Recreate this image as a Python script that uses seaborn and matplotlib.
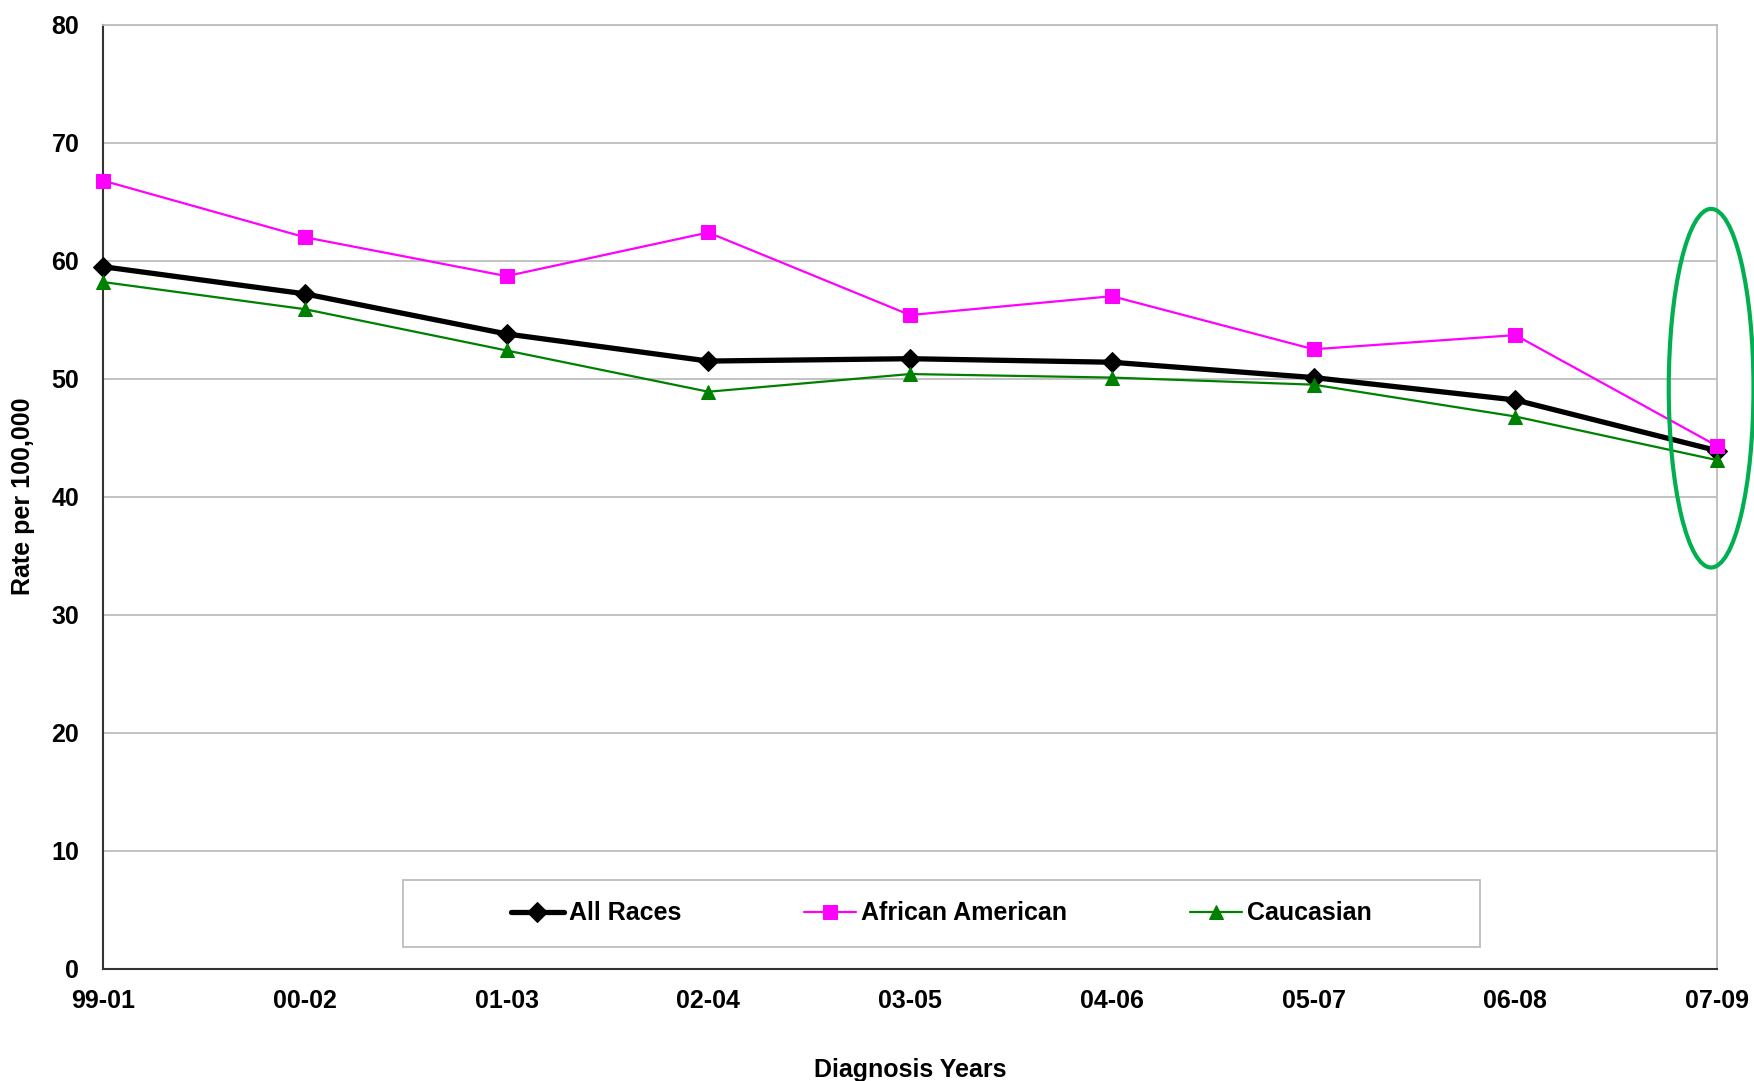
import matplotlib
matplotlib.use("Agg")
import matplotlib.pyplot as plt
from matplotlib.patches import Ellipse, Rectangle
import seaborn as sns
import pandas as pd

periods = ["99-01", "00-02", "01-03", "02-04", "03-05", "04-06", "05-07", "06-08", "07-09"]
all_races = [59.5, 57.2, 53.8, 51.5, 51.7, 51.4, 50.1, 48.2, 43.9]
african_american = [66.8, 62.0, 58.7, 62.4, 55.4, 57.0, 52.5, 53.7, 44.3]
caucasian = [58.2, 55.9, 52.4, 48.9, 50.4, 50.1, 49.5, 46.8, 43.1]
y_ticks = [0, 10, 20, 30, 40, 50, 60, 70, 80]

sns.set_theme(style="white")
plt.rcParams["font.family"] = ["Liberation Sans", "DejaVu Sans"]
plt.rcParams["text.color"] = "black"
plt.rcParams["axes.labelcolor"] = "black"
plt.rcParams["xtick.color"] = "black"
plt.rcParams["ytick.color"] = "black"

FS = 18

df = pd.DataFrame({
    "period": periods * 3,
    "rate": all_races + african_american + caucasian,
    "group": ["All Races"] * 9 + ["African American"] * 9 + ["Caucasian"] * 9,
})

fig = plt.figure(figsize=(17.54, 10.81), dpi=100)
ax = fig.add_axes([0.0587, 0.104, 0.9203, 0.873])

styles = {
    "All Races": dict(color="black", marker="D", markersize=10, linewidth=3.8),
    "African American": dict(color="#FF00FF", marker="s", markersize=9.5, linewidth=1.6),
    "Caucasian": dict(color="#008000", marker="^", markersize=9.5, linewidth=1.6),
}
for name, st in styles.items():
    sub = df[df["group"] == name]
    sns.lineplot(data=sub, x="period", y="rate", ax=ax, sort=False,
                 label=name, markeredgecolor=st["color"], zorder=3,
                 clip_on=False, **st)

ax.set_xlim(0, len(periods) - 1)
ax.set_ylim(0, 80)
ax.set_yticks(y_ticks)
ax.yaxis.grid(True, color="#BDBDBD", linewidth=1.3)
ax.xaxis.grid(False)

for side in ("top", "right"):
    ax.spines[side].set_color("#BDBDBD")
    ax.spines[side].set_linewidth(1.3)
for side in ("left", "bottom"):
    ax.spines[side].set_color("#333333")
    ax.spines[side].set_linewidth(1.5)

ax.tick_params(axis="both", which="major", direction="out", length=5, width=1.2,
               color="#333333", labelsize=FS, labelcolor="black")
ax.tick_params(axis="y", pad=12)
ax.tick_params(axis="x", pad=10)
for lbl in ax.get_xticklabels() + ax.get_yticklabels():
    lbl.set_fontweight("bold")

ax.set_xlabel("Diagnosis Years", fontsize=FS, fontweight="bold", labelpad=32)
ax.set_ylabel("Rate per 100,000", fontsize=FS, fontweight="bold", labelpad=12)

# legend box
box = Rectangle((0.186, 0.023), 0.667, 0.071, transform=ax.transAxes,
                facecolor="white", edgecolor="#BDBDBD", linewidth=1.3, zorder=4)
ax.add_patch(box)
leg = ax.legend(loc="center", bbox_to_anchor=(0.5195, 0.0585), ncol=3, frameon=False,
                handlelength=2.1, handletextpad=0.2, columnspacing=4.9,
                prop={"weight": "bold", "size": FS})
leg.set_zorder(5)

# highlight for the latest period
ell = Ellipse((7.97, 49.2), width=0.42, height=30.4, fill=False,
              edgecolor="#00B050", linewidth=3, clip_on=False, zorder=6)
ax.add_patch(ell)

fig.savefig("out.png", dpi=100)
